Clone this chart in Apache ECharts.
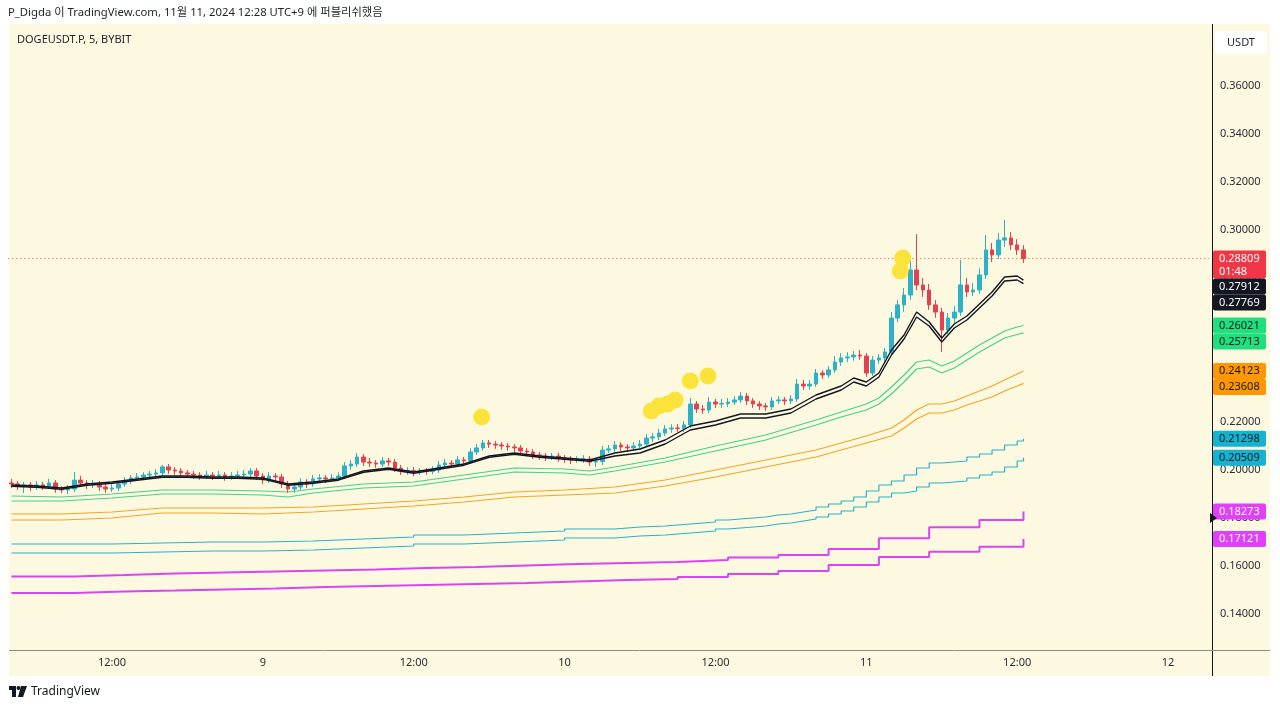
<!DOCTYPE html>
<html><head><meta charset="utf-8">
<script src="https://cdn.jsdelivr.net/npm/echarts@6/dist/echarts.min.js"></script>
<style>
html,body{margin:0;padding:0;background:#fff;}
#panel{position:absolute;left:9px;top:24px;width:1261px;height:652px;background:#fdf9e1;}
#chart{position:absolute;left:0;top:0;width:1280px;height:709px;}
</style></head><body>
<div id="panel"></div>
<div id="chart"></div>
<script>
// ---------------- DATA ----------------
// 30-minute candles, first slot = Nov 8 04:00 (hour 4 counted from Nov 8 00:00)
const firstHour = 4, stepHour = 0.5, slotCount = 191;
// [open, close, low, high]
const candles = [
[0.1946,0.1942,0.1925,0.1963],[0.1942,0.1933,0.1917,0.1954],[0.1933,0.1938,0.1904,0.1950],[0.1938,0.1929,0.1913,0.1950],
[0.1929,0.1938,0.1917,0.1954],[0.1938,0.1933,0.1917,0.1950],[0.1933,0.1946,0.1921,0.1963],[0.1946,0.1921,0.1905,0.1958],
[0.1921,0.1917,0.1904,0.1933],[0.1917,0.1921,0.1900,0.1937],[0.1921,0.1958,0.1909,0.1992],[0.1958,0.1946,0.1930,0.1975],
[0.1946,0.1938,0.1921,0.1958],[0.1938,0.1942,0.1925,0.1958],[0.1942,0.1929,0.1913,0.1954],[0.1929,0.1921,0.1905,0.1941],
[0.1921,0.1925,0.1909,0.1941],[0.1925,0.1942,0.1913,0.1954],[0.1942,0.1954,0.1930,0.1971],[0.1954,0.1967,0.1942,0.1979],
[0.1967,0.1971,0.1955,0.1987],[0.1971,0.1979,0.1959,0.1991],[0.1979,0.1983,0.1967,0.1996],[0.1983,0.1988,0.1971,0.2004],
[0.1988,0.2013,0.1975,0.2021],[0.2013,0.2000,0.1984,0.2025],[0.2000,0.1996,0.1980,0.2012],[0.1996,0.1988,0.1971,0.2008],
[0.1988,0.1983,0.1967,0.2000],[0.1983,0.1979,0.1963,0.1996],[0.1979,0.1975,0.1959,0.1991],[0.1975,0.1979,0.1963,0.1996],
[0.1979,0.1975,0.1959,0.1991],[0.1975,0.1979,0.1963,0.1996],[0.1979,0.1971,0.1955,0.1991],[0.1971,0.1975,0.1959,0.1991],
[0.1975,0.1979,0.1963,0.1996],[0.1979,0.1983,0.1967,0.2000],[0.1983,0.1996,0.1971,0.2008],[0.1996,0.1975,0.1959,0.2008],
[0.1975,0.1958,0.1942,0.1987],[0.1958,0.1975,0.1946,0.1991],[0.1975,0.1971,0.1955,0.1987],[0.1971,0.1942,0.1925,0.1983],
[0.1942,0.1921,0.1904,0.1954],[0.1921,0.1929,0.1905,0.1946],[0.1929,0.1950,0.1917,0.1966],[0.1950,0.1942,0.1925,0.1962],
[0.1942,0.1963,0.1930,0.1979],[0.1963,0.1967,0.1950,0.1983],[0.1967,0.1963,0.1946,0.1979],[0.1963,0.1967,0.1950,0.1983],
[0.1967,0.1975,0.1955,0.1991],[0.1975,0.2017,0.1963,0.2033],[0.2017,0.2025,0.2000,0.2041],[0.2025,0.2054,0.2013,0.2071],
[0.2054,0.2033,0.2017,0.2066],[0.2033,0.2029,0.2013,0.2050],[0.2029,0.2025,0.2009,0.2041],[0.2025,0.2038,0.2013,0.2054],
[0.2038,0.2033,0.2017,0.2050],[0.2033,0.2008,0.1992,0.2046],[0.2008,0.1996,0.1980,0.2021],[0.1996,0.1998,0.1980,0.2012],
[0.1998,0.1992,0.1975,0.2012],[0.1992,0.1996,0.1980,0.2008],[0.1996,0.1994,0.1980,0.2008],[0.1994,0.2000,0.1982,0.2016],
[0.2000,0.2021,0.1988,0.2037],[0.2021,0.2029,0.2009,0.2046],[0.2029,0.2025,0.2009,0.2041],[0.2025,0.2042,0.2013,0.2058],
[0.2042,0.2038,0.2021,0.2054],[0.2038,0.2075,0.2025,0.2091],[0.2075,0.2092,0.2063,0.2108],[0.2092,0.2113,0.2080,0.2125],
[0.2113,0.2108,0.2092,0.2125],[0.2108,0.2104,0.2088,0.2121],[0.2104,0.2100,0.2084,0.2116],[0.2100,0.2096,0.2080,0.2112],
[0.2096,0.2092,0.2075,0.2108],[0.2092,0.2079,0.2063,0.2104],[0.2079,0.2075,0.2059,0.2091],[0.2075,0.2063,0.2046,0.2087],
[0.2063,0.2058,0.2042,0.2075],[0.2058,0.2054,0.2038,0.2071],[0.2054,0.2058,0.2042,0.2071],[0.2058,0.2050,0.2034,0.2071],
[0.2050,0.2046,0.2030,0.2062],[0.2046,0.2042,0.2025,0.2058],[0.2042,0.2044,0.2030,0.2058],[0.2044,0.2046,0.2030,0.2062],
[0.2046,0.2033,0.2017,0.2058],[0.2033,0.2035,0.2013,0.2050],[0.2035,0.2083,0.2021,0.2100],[0.2083,0.2088,0.2071,0.2104],
[0.2088,0.2104,0.2075,0.2121],[0.2104,0.2096,0.2080,0.2116],[0.2096,0.2092,0.2075,0.2108],[0.2092,0.2100,0.2080,0.2116],
[0.2100,0.2108,0.2088,0.2125],[0.2108,0.2133,0.2096,0.2150],[0.2133,0.2138,0.2117,0.2154],[0.2138,0.2154,0.2125,0.2171],
[0.2154,0.2171,0.2142,0.2187],[0.2171,0.2175,0.2155,0.2191],[0.2175,0.2173,0.2159,0.2191],[0.2173,0.2188,0.2159,0.2204],
[0.2188,0.2275,0.2175,0.2300],[0.2275,0.2254,0.2238,0.2287],[0.2254,0.2250,0.2234,0.2271],[0.2250,0.2283,0.2238,0.2304],
[0.2283,0.2275,0.2259,0.2296],[0.2275,0.2277,0.2259,0.2296],[0.2277,0.2283,0.2263,0.2300],[0.2283,0.2292,0.2271,0.2308],
[0.2292,0.2308,0.2280,0.2325],[0.2308,0.2288,0.2271,0.2321],[0.2288,0.2275,0.2259,0.2300],[0.2275,0.2267,0.2250,0.2287],
[0.2267,0.2263,0.2246,0.2279],[0.2263,0.2288,0.2250,0.2304],[0.2288,0.2292,0.2275,0.2308],[0.2292,0.2288,0.2271,0.2304],
[0.2288,0.2296,0.2275,0.2312],[0.2296,0.2358,0.2284,0.2379],[0.2358,0.2350,0.2334,0.2375],[0.2350,0.2358,0.2334,0.2375],
[0.2358,0.2404,0.2346,0.2421],[0.2404,0.2396,0.2380,0.2416],[0.2396,0.2417,0.2384,0.2433],[0.2417,0.2450,0.2405,0.2475],
[0.2450,0.2467,0.2434,0.2487],[0.2467,0.2471,0.2450,0.2491],[0.2471,0.2479,0.2455,0.2496],[0.2479,0.2475,0.2459,0.2500],
[0.2475,0.2404,0.2388,0.2487],[0.2404,0.2458,0.2392,0.2475],[0.2458,0.2467,0.2442,0.2483],[0.2467,0.2492,0.2450,0.2508],
[0.2492,0.2633,0.2480,0.2658],[0.2633,0.2688,0.2617,0.2708],[0.2688,0.2729,0.2659,0.2758],[0.2729,0.2833,0.2709,0.2875],
[0.2833,0.2771,0.2750,0.2983],[0.2771,0.2750,0.2721,0.2800],[0.2750,0.2688,0.2667,0.2775],[0.2688,0.2658,0.2634,0.2708],
[0.2658,0.2583,0.2492,0.2675],[0.2583,0.2633,0.2567,0.2654],[0.2633,0.2658,0.2613,0.2683],[0.2658,0.2771,0.2642,0.2875],
[0.2771,0.2742,0.2721,0.2800],[0.2742,0.2750,0.2725,0.2779],[0.2750,0.2813,0.2734,0.2841],[0.2813,0.2917,0.2796,0.2979],
[0.2917,0.2896,0.2867,0.2946],[0.2896,0.2958,0.2880,0.2987],[0.2958,0.2967,0.2930,0.3042],[0.2967,0.2938,0.2917,0.2991],
[0.2938,0.2917,0.2896,0.2962],[0.2917,0.28809,0.2863,0.2937]
];
const lastPrice = 0.28809;
const countdown = '01:48';

// Fast MA pair (black)
const blackHours = [4,6,8,10,12,14,16,18,20,22,24,26,28,30,32,34,36,38,40,42,44,46,48,50,52,54,56,58,60,62,64,66,68,70,71,72,73,74,75,76,77,78,79,80,81,82,83,84,84.5];
const blackUpper = [0.19375,0.19333,0.19250,0.19417,0.19500,0.19625,0.19750,0.19750,0.19708,0.19708,0.19667,0.19417,0.19500,0.19625,0.19958,0.20083,0.19917,0.20083,0.20250,0.20583,0.20708,0.20583,0.20500,0.20417,0.20708,0.20875,0.21250,0.21833,0.22042,0.22333,0.22333,0.22542,0.23125,0.23500,0.23833,0.23667,0.24042,0.25000,0.25625,0.26583,0.26167,0.25500,0.26083,0.26417,0.26917,0.27417,0.28042,0.28083,0.27912];
const blackLower = [0.19325,0.19283,0.19200,0.19367,0.19450,0.19575,0.19700,0.19700,0.19658,0.19658,0.19617,0.19367,0.19450,0.19575,0.19908,0.20033,0.19867,0.20033,0.20200,0.20533,0.20658,0.20533,0.20450,0.20367,0.20583,0.20708,0.21083,0.21667,0.21875,0.22167,0.22167,0.22375,0.22958,0.23333,0.23667,0.23500,0.23875,0.24792,0.25458,0.26375,0.26000,0.25333,0.25917,0.26250,0.26750,0.27250,0.27875,0.27917,0.27769];

// Green pair
const greenHours = [4,8,12,16,20,24,26,28,32,36,40,44,48,50,52,56,60,64,68,70,72,73,74,75,76,77,78,79,80,81,82,83,84,84.5];
const greenUpper = [0.18917,0.18875,0.19000,0.19167,0.19167,0.19125,0.19083,0.19208,0.19417,0.19500,0.19792,0.20083,0.20042,0.19958,0.20125,0.20500,0.21000,0.21458,0.22083,0.22417,0.22750,0.23000,0.23458,0.23958,0.24500,0.24583,0.24333,0.24542,0.24875,0.25208,0.25500,0.25792,0.25958,0.26021];
const greenLower = [0.18708,0.18708,0.18833,0.19000,0.19000,0.18958,0.18875,0.19042,0.19250,0.19333,0.19625,0.19917,0.19875,0.19792,0.19958,0.20333,0.20792,0.21250,0.21875,0.22208,0.22500,0.22750,0.23167,0.23667,0.24208,0.24292,0.24042,0.24250,0.24583,0.24917,0.25208,0.25500,0.25646,0.25713];

// Orange pair
const orangeHours = [4,8,12,16,20,24,28,32,36,40,44,48,52,56,60,64,68,70,72,74,75,76,77,78,79,80,82,83,84,84.5];
const orangeUpper = [0.18167,0.18167,0.18250,0.18417,0.18417,0.18417,0.18458,0.18583,0.18708,0.18875,0.19083,0.19167,0.19292,0.19583,0.20000,0.20417,0.20833,0.21125,0.21417,0.21750,0.22083,0.22500,0.22750,0.22750,0.22875,0.23083,0.23500,0.23750,0.24000,0.24123];
const orangeLower = [0.17917,0.17917,0.18000,0.18208,0.18208,0.18167,0.18250,0.18375,0.18500,0.18667,0.18875,0.18958,0.19042,0.19333,0.19708,0.20125,0.20542,0.20833,0.21125,0.21417,0.21750,0.22125,0.22375,0.22375,0.22500,0.22708,0.23042,0.23292,0.23500,0.23608];

// Teal pair (stepped, higher timeframe)
const tealHours = [4,8,12,16,20,24,28,32,36,40,44,48,52,54,56,58,60,61,62,63,64,65,66,67,68,69,70,71,72,73,74,75,76,77,78,79,80,81,82,83,84,84.5];
const tealUpper = [0.16917,0.16917,0.16958,0.17000,0.17000,0.17042,0.17125,0.17208,0.17292,0.17375,0.17458,0.17542,0.17625,0.17667,0.17750,0.17833,0.17917,0.17958,0.18000,0.18042,0.18125,0.18167,0.18250,0.18333,0.18458,0.18583,0.18708,0.18875,0.19125,0.19375,0.19542,0.19792,0.20083,0.20292,0.20333,0.20375,0.20542,0.20667,0.20833,0.21042,0.21208,0.21298];
const tealLower = [0.16542,0.16542,0.16583,0.16625,0.16625,0.16667,0.16750,0.16833,0.16917,0.17000,0.17083,0.17167,0.17250,0.17292,0.17375,0.17458,0.17542,0.17583,0.17625,0.17667,0.17750,0.17792,0.17875,0.17958,0.18042,0.18167,0.18292,0.18458,0.18667,0.18875,0.19042,0.19125,0.19292,0.19458,0.19500,0.19542,0.19667,0.19792,0.19917,0.20125,0.20375,0.20509];

// Magenta pair (stepped, 4h)
const magentaHours = [4,9,13,17,21,25,29,33,37,41,45,49,53,57,61,65,69,73,77,81,84.5];
const magentaUpper = [0.15563,0.15625,0.15688,0.15729,0.15771,0.15813,0.15854,0.15917,0.15958,0.16021,0.16083,0.16125,0.16167,0.16250,0.16354,0.16458,0.16708,0.17154,0.17613,0.17917,0.18273];
const magentaLower = [0.14875,0.14938,0.14979,0.15021,0.15063,0.15125,0.15167,0.15208,0.15250,0.15292,0.15354,0.15417,0.15458,0.15542,0.15667,0.15792,0.16042,0.16375,0.16596,0.16804,0.17121];

// Yellow signal dots
const signalHours = [41.4, 54.9, 55.5, 56.2, 56.8, 58.0, 59.4, 74.7, 74.9];
const signalPrices = [0.2221, 0.2246, 0.2267, 0.2275, 0.2292, 0.2371, 0.2392, 0.2829, 0.2883];

// Axis tick labels
const xTickLabels = [[12,'12:00'],[24,'9'],[36,'12:00'],[48,'10'],[60,'12:00'],[72,'11'],[84,'12:00'],[96,'12']];
const priceMin = 0.12, priceMax = 0.38, priceStep = 0.02;
const markerLevel = 0.18;

// ---------------- CHART ----------------
const FONT = '"Noto Sans", "Noto Sans CJK KR", sans-serif';
const TXT = '#2a2e39';
const categories = [];
for (let i = 0; i < slotCount; i++) categories.push(String(firstHour + stepHour * i));
const tickMap = Object.fromEntries(xTickLabels);
const pairs = (hs, vs) => hs.map((h, i) => [h, vs[i]]);
const hourMin = firstHour - stepHour / 2;
const hourMax = firstHour + stepHour * (slotCount - 1) + stepHour / 2;

function lineSeries(hours, vals, color, width, step) {
  return {
    type: 'line', xAxisIndex: 1, yAxisIndex: 0, data: pairs(hours, vals),
    showSymbol: false, symbol: 'none', step: step || false, z: 3,
    lineStyle: { color: color, width: width }, silent: true
  };
}

const chart = echarts.init(document.getElementById('chart'));
chart.setOption({
  animation: false,
  backgroundColor: 'transparent',
  grid: { left: 8.3, right: 71.1, top: 38, bottom: 47 },
  xAxis: [
    { type: 'category', data: categories, boundaryGap: true,
      axisLine: { show: false }, axisTick: { show: false }, splitLine: { show: false },
      axisLabel: { interval: (idx, val) => tickMap[+val] !== undefined,
        formatter: (val) => tickMap[+val] || '', color: TXT, fontSize: 11, fontFamily: FONT,
        margin: 1, verticalAlign: 'middle' } },
    { type: 'value', show: false, min: hourMin, max: hourMax }
  ],
  yAxis: { type: 'value', position: 'right', min: priceMin, max: priceMax, interval: priceStep,
    axisLine: { show: false }, axisTick: { show: false }, splitLine: { show: false },
    axisLabel: { margin: 11, color: TXT, fontSize: 11, fontFamily: FONT,
      formatter: (v) => (v < priceMin + 0.01 || v > priceMax - 0.01) ? '' : v.toFixed(5) } },
  series: [
    { type: 'line', xAxisIndex: 1, yAxisIndex: 0, data: [[hourMin, lastPrice], [hourMax, lastPrice]],
      showSymbol: false, symbol: 'none', z: 1, silent: true,
      lineStyle: { color: '#f23645', type: [1, 3], width: 1 } },
    { type: 'candlestick', data: candles, barWidth: 4, z: 2,
      itemStyle: { color: '#2bb2c6', color0: '#e5404f', borderColor: '#2bb2c6', borderColor0: '#e5404f', borderWidth: 1 } },
    lineSeries(magentaHours, magentaUpper, '#dc43f2', 2, 'end'),
    lineSeries(magentaHours, magentaLower, '#dc43f2', 2, 'end'),
    lineSeries(tealHours, tealUpper, '#27b3c9', 1.2, 'end'),
    lineSeries(tealHours, tealLower, '#27b3c9', 1.2, 'end'),
    lineSeries(orangeHours, orangeUpper, '#f5a425', 1.2),
    lineSeries(orangeHours, orangeLower, '#f5a425', 1.2),
    lineSeries(greenHours, greenUpper, '#3ed48a', 1.2),
    lineSeries(greenHours, greenLower, '#3ed48a', 1.2),
    lineSeries(blackHours, blackUpper, '#131722', 1.4),
    lineSeries(blackHours, blackLower, '#131722', 1.4),
    { type: 'scatter', xAxisIndex: 1, yAxisIndex: 0, data: pairs(signalHours, signalPrices),
      symbolSize: 17, itemStyle: { color: '#fbe33b', opacity: 1 }, z: 10, silent: true }
  ]
});

// ---------------- GRAPHICS (frame, texts, price tags) ----------------
const g = [];
g.push({ type: 'text', x: 8, y: 13, z: 50, style: { text: 'P_Digda 이 TradingView.com, 11월 11, 2024 12:28 UTC+9 에 퍼블리쉬했음', fill: '#1e222d', font: '11.3px ' + FONT, verticalAlign: 'middle' } });
g.push({ type: 'text', x: 17, y: 40, z: 50, style: { text: 'DOGEUSDT.P, 5, BYBIT', fill: '#1e222d', font: '11px ' + FONT, verticalAlign: 'middle' } });
g.push({ type: 'rect', z: 50, shape: { x: 1215, y: 31, width: 52, height: 23, r: 4 }, style: { fill: '#ffffff' } });
g.push({ type: 'text', x: 1241, y: 42.5, z: 51, style: { text: 'USDT', fill: '#1e222d', font: '11px ' + FONT, align: 'center', verticalAlign: 'middle' } });
g.push({ type: 'line', z: 50, shape: { x1: 1212.5, y1: 24, x2: 1212.5, y2: 676 }, style: { stroke: '#131722', lineWidth: 1 } });
g.push({ type: 'line', z: 50, shape: { x1: 9, y1: 650.5, x2: 1270, y2: 650.5 }, style: { stroke: '#8d8d86', lineWidth: 1 } });
// footer logo
g.push({ type: 'rect', z: 50, shape: { x: 9, y: 686, width: 7, height: 4 }, style: { fill: '#131722' } });
g.push({ type: 'rect', z: 50, shape: { x: 12, y: 686, width: 4, height: 11 }, style: { fill: '#131722' } });
g.push({ type: 'circle', z: 50, shape: { cx: 18.5, cy: 688, r: 2 }, style: { fill: '#131722' } });
g.push({ type: 'polygon', z: 50, shape: { points: [[21, 686], [27, 686], [23, 697], [18, 697]] }, style: { fill: '#131722' } });
g.push({ type: 'text', x: 31, y: 692, z: 50, style: { text: 'TradingView', fill: '#131722', font: '12px ' + FONT, verticalAlign: 'middle' } });

const tagDefs = [
  { v: lastPrice, bg: '#f23645', fg: '#ffffff', sub: countdown },
  { v: blackUpper[blackUpper.length - 1], bg: '#131722', fg: '#ffffff' },
  { v: blackLower[blackLower.length - 1], bg: '#131722', fg: '#ffffff' },
  { v: greenUpper[greenUpper.length - 1], bg: '#1fe07f', fg: '#131722' },
  { v: greenLower[greenLower.length - 1], bg: '#1fe07f', fg: '#131722' },
  { v: orangeUpper[orangeUpper.length - 1], bg: '#ff9800', fg: '#131722' },
  { v: orangeLower[orangeLower.length - 1], bg: '#ff9800', fg: '#131722' },
  { v: tealUpper[tealUpper.length - 1], bg: '#14b3cf', fg: '#131722' },
  { v: tealLower[tealLower.length - 1], bg: '#14b3cf', fg: '#131722' },
  { v: magentaUpper[magentaUpper.length - 1], bg: '#e040fb', fg: '#ffffff' },
  { v: magentaLower[magentaLower.length - 1], bg: '#e040fb', fg: '#ffffff' }
];
let prevBottom = -Infinity;
tagDefs.forEach(t => {
  const y = chart.convertToPixel({ yAxisIndex: 0 }, t.v);
  const h = t.sub ? 28 : 16;
  let top = y - 8;
  if (top < prevBottom) top = prevBottom;
  prevBottom = top + h;
  g.push({ type: 'rect', z: 100, shape: { x: 1213, y: top, width: 53, height: h, r: 2 }, style: { fill: t.bg } });
  g.push({ type: 'text', x: 1219, y: top + 8, z: 101, style: { text: t.v.toFixed(5), fill: t.fg, font: '11px ' + FONT, verticalAlign: 'middle' } });
  if (t.sub) g.push({ type: 'text', x: 1219, y: top + 21, z: 101, style: { text: t.sub, fill: t.fg, font: '11px ' + FONT, verticalAlign: 'middle' } });
});
const my = chart.convertToPixel({ yAxisIndex: 0 }, markerLevel);
g.push({ type: 'polygon', z: 102, shape: { points: [[1210, my - 5], [1217, my], [1210, my + 5]] }, style: { fill: '#131722' } });

chart.setOption({ graphic: g });
</script>
</body></html>
